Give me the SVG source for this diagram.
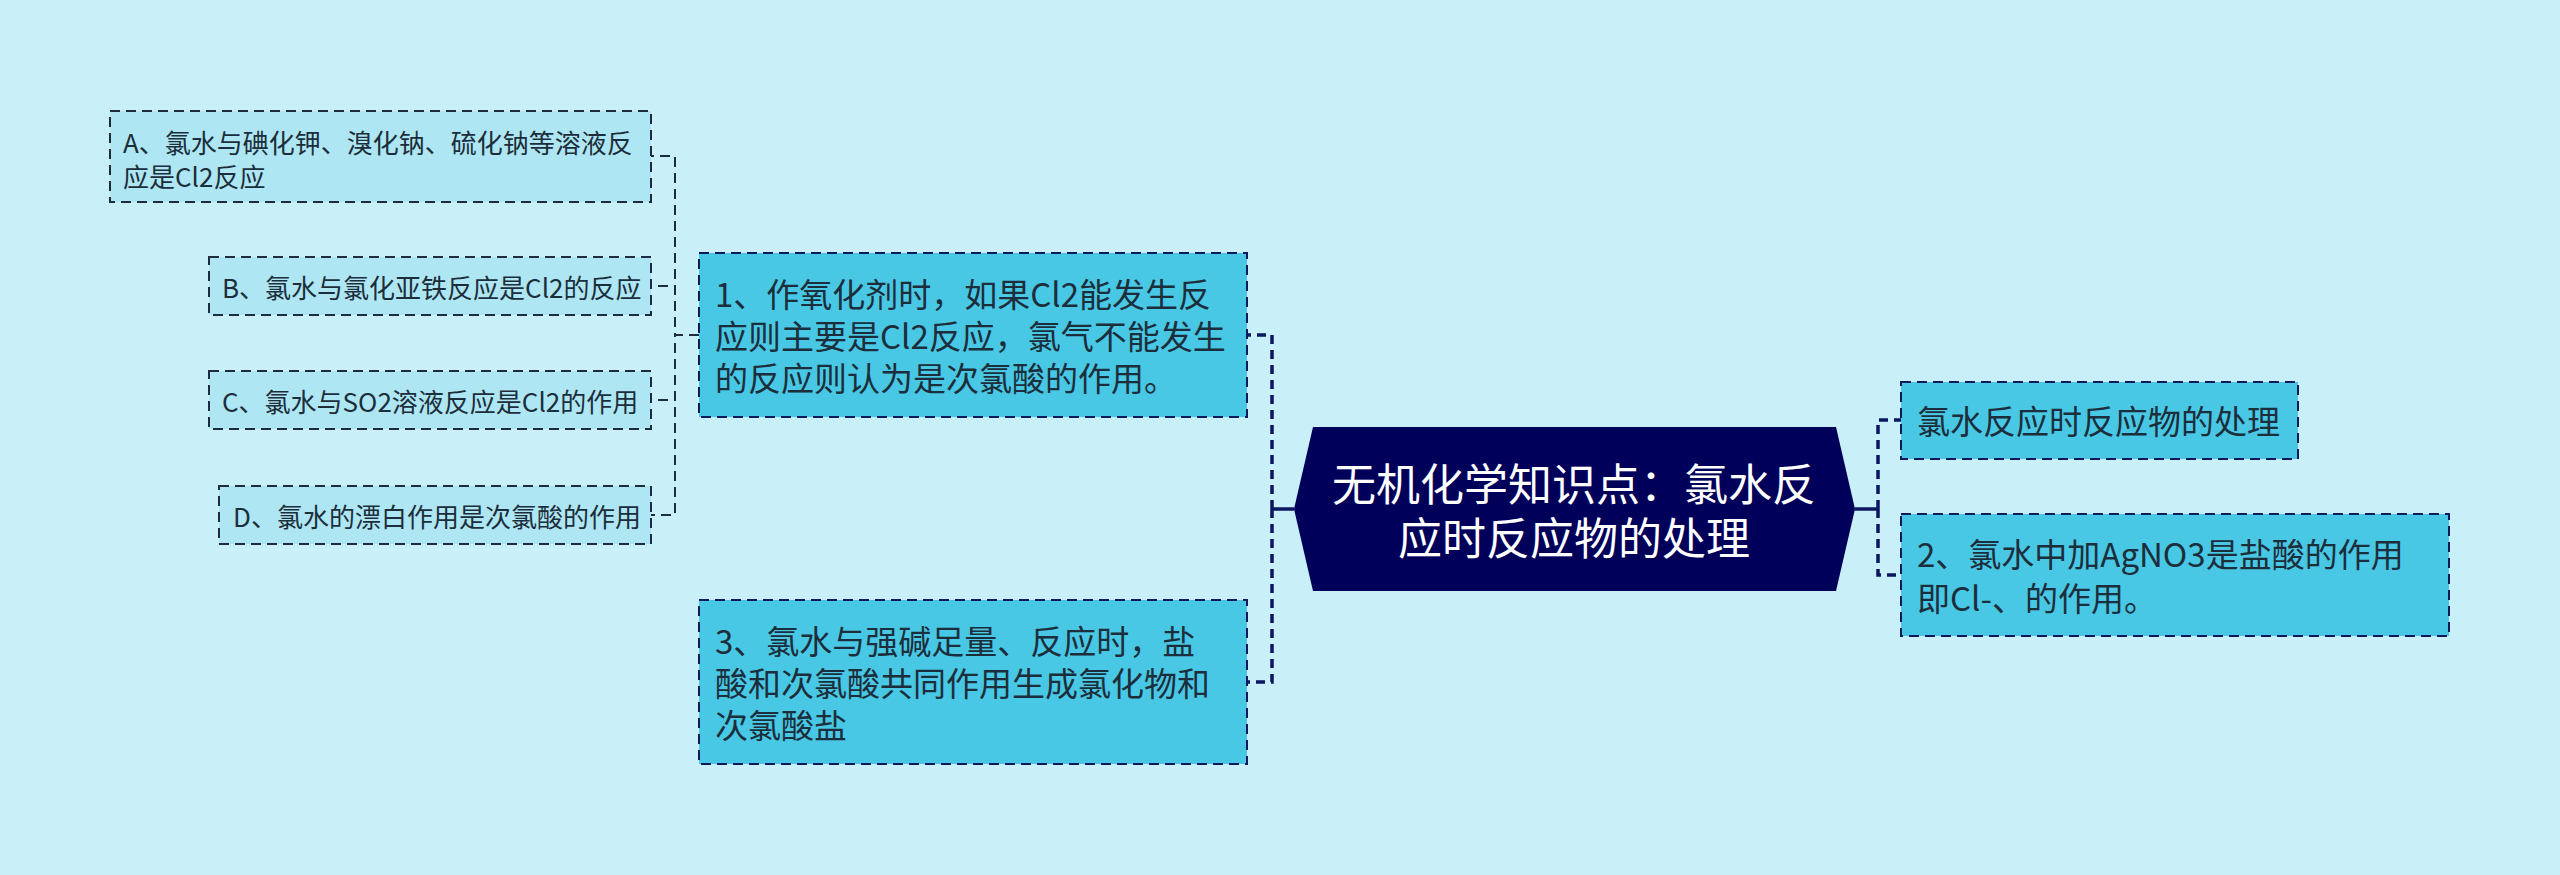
<svg xmlns="http://www.w3.org/2000/svg" width="2560" height="875" viewBox="0 0 2560 875">
<style>
text{font-family:"Noto Sans CJK SC","Microsoft YaHei",sans-serif;dominant-baseline:central;fill:#1c2e3b}
.small rect{fill:#aee7f3;stroke:#1d2c3f;stroke-width:2;stroke-dasharray:10 6}
.small text{font-size:26px}
.big rect{fill:#48c8e4;stroke:#0d1a5c;stroke-width:2;stroke-dasharray:10 6}
.big text{font-size:33px}
.thin{fill:none;stroke:#1d2c3f;stroke-width:2;stroke-dasharray:10 6}
.thick{fill:none;stroke:#0b1660;stroke-width:3.5;stroke-dasharray:9 6}
.solid{fill:none;stroke:#0b1660;stroke-width:3.5}
</style>
<rect width="2560" height="875" fill="#c9f0f8"/>
<g id="connectors">
<path class="thin" d="M699 335H675V156H651"/>
<path class="thin" d="M699 335H675V286H651"/>
<path class="thin" d="M699 335H675V400H651"/>
<path class="thin" d="M699 335H675V515H651"/>
<path class="solid" d="M1294 509H1272"/>
<path class="thick" d="M1272 509V335H1247"/>
<path class="thick" d="M1272 509V682H1247"/>
<path class="solid" d="M1855 509H1878"/>
<path class="thick" d="M1878 509V420H1901"/>
<path class="thick" d="M1878 509V575H1901"/>
</g>
<g id="center">
<polygon points="1294,509 1313,427 1836,427 1855,509 1836,591 1313,591" fill="#00005a"/>
<text x="1574" y="482" text-anchor="middle" style="fill:#ffffff;font-size:44px">无机化学知识点：氯水反</text>
<text x="1574" y="536" text-anchor="middle" style="fill:#ffffff;font-size:44px">应时反应物的处理</text>
</g>
<g id="nodeA" class="small">
<rect x="110" y="111" width="541" height="91"/>
<text x="123" y="141">A、氯水与碘化钾、溴化钠、硫化钠等溶液反</text>
<text x="123" y="175">应是Cl2反应</text>
</g>
<g id="nodeB" class="small">
<rect x="209" y="257" width="442" height="58"/>
<text x="222" y="286">B、氯水与氯化亚铁反应是Cl2的反应</text>
</g>
<g id="nodeC" class="small">
<rect x="209" y="371" width="442" height="58"/>
<text x="222" y="400">C、氯水与SO2溶液反应是Cl2的作用</text>
</g>
<g id="nodeD" class="small">
<rect x="219" y="486" width="432" height="58"/>
<text x="233" y="515">D、氯水的漂白作用是次氯酸的作用</text>
</g>
<g id="node1" class="big">
<rect x="699" y="253" width="548" height="164"/>
<text x="715" y="293">1、作氧化剂时，如果Cl2能发生反</text>
<text x="715" y="335">应则主要是Cl2反应，氯气不能发生</text>
<text x="715" y="377">的反应则认为是次氯酸的作用。</text>
</g>
<g id="node3" class="big">
<rect x="699" y="600" width="548" height="164"/>
<text x="715" y="640">3、氯水与强碱足量、反应时，盐</text>
<text x="715" y="682">酸和次氯酸共同作用生成氯化物和</text>
<text x="715" y="724">次氯酸盐</text>
</g>
<g id="nodeR1" class="big">
<rect x="1901" y="382" width="397" height="77"/>
<text x="1917" y="420">氯水反应时反应物的处理</text>
</g>
<g id="nodeR2" class="big">
<rect x="1901" y="514" width="548" height="122"/>
<text x="1917" y="553">2、氯水中加AgNO3是盐酸的作用</text>
<text x="1917" y="597">即Cl-、的作用。</text>
</g>
</svg>
